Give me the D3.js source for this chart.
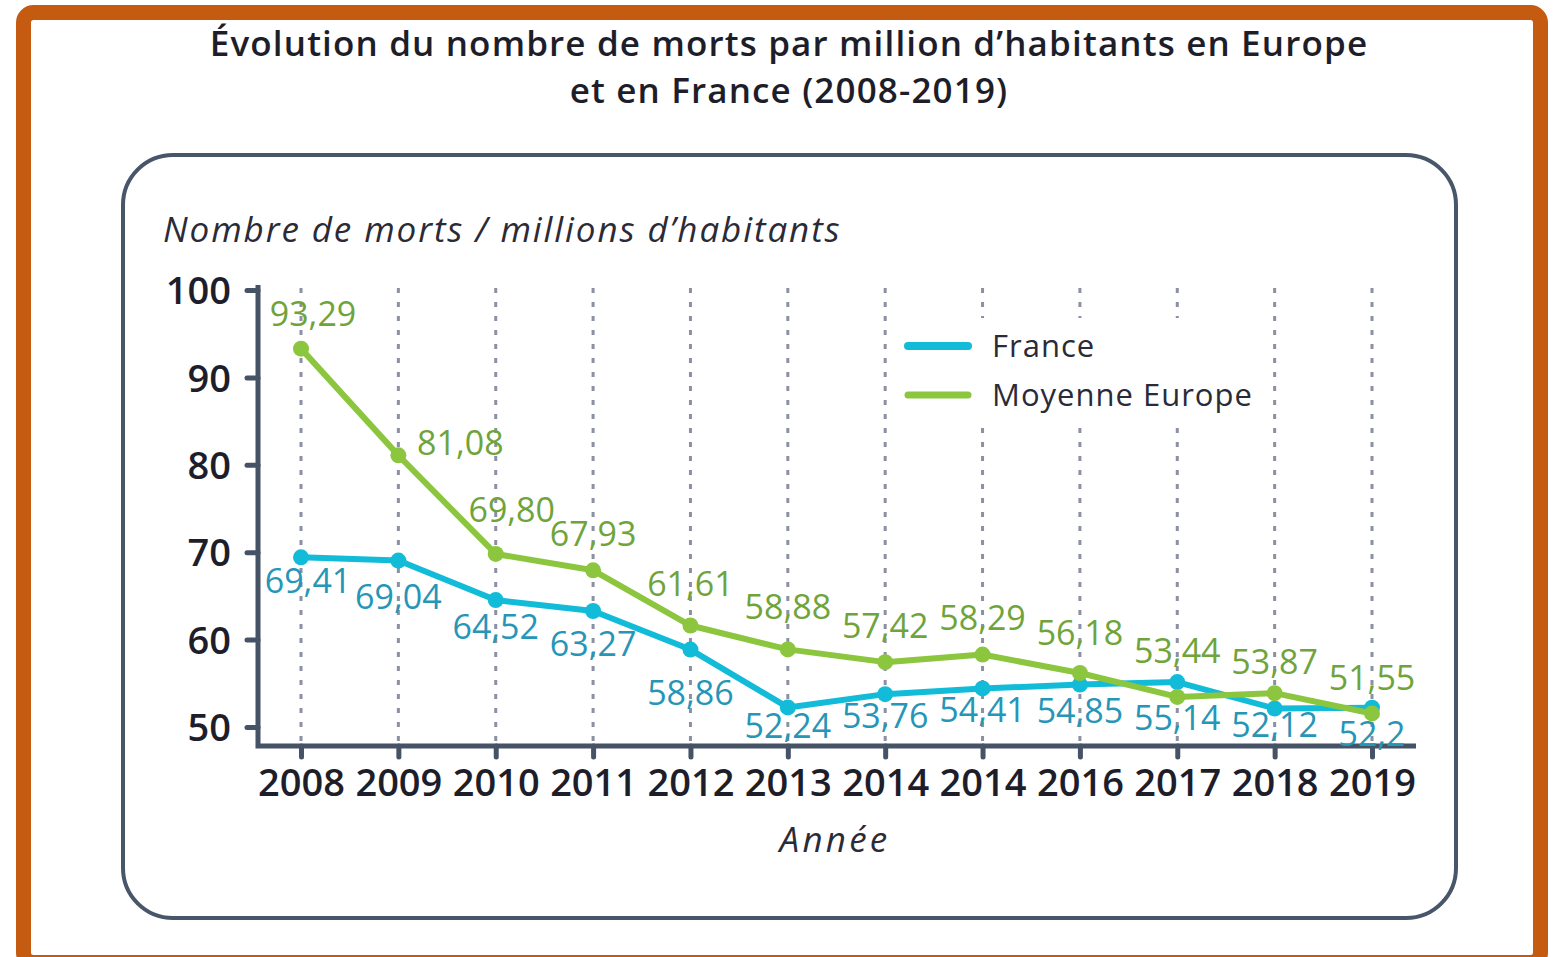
<!DOCTYPE html>
<html>
<head>
<meta charset="utf-8">
<script src="https://cdn.jsdelivr.net/npm/d3@7"></script>
<style>
  body { margin: 0; background: #fff; }
  svg { display: block; }
</style>
</head>
<body>
<div id="container"></div>
<script>
const W = 1555, H = 957;

// data
const yearLabels = ["2008", "2009", "2010", "2011", "2012", "2013", "2014", "2014", "2016", "2017", "2018", "2019"];
const france = [69.41, 69.04, 64.52, 63.27, 58.86, 52.24, 53.76, 54.41, 54.85, 55.14, 52.12, 52.2];
const europe = [93.29, 81.08, 69.80, 67.93, 61.61, 58.88, 57.42, 58.29, 56.18, 53.44, 53.87, 51.55];
const franceText = ["69,41", "69,04", "64,52", "63,27", "58,86", "52,24", "53,76", "54,41", "54,85", "55,14", "52,12", "52,2"];
const europeText = ["93,29", "81,08", "69,80", "67,93", "61,61", "58,88", "57,42", "58,29", "56,18", "53,44", "53,87", "51,55"];
const yTicks = [50, 60, 70, 80, 90, 100];

// label nudges (layout only)
const europeDx = [12, 62, 16, 0, 0, 0, 0, 0, 0, 0, 0, 0];
const europeDy = [-23, 0, -32, -24, -30, -30, -24, -25, -28, -34, -19, -23];
const franceDx = [7, 0, 0, 0, 0, 0, 0, 0, 0, 0, 0, 0];
const franceDy = [36, 48, 39, 45, 55, 31, 34, 34, 38, 48, 29, 38];

const blue = "#12bcd9", green = "#8cc63f";
const blueText = "#2696b8", greenText = "#6fa43a";
const axisColor = "#465366", gridColor = "#8b90a2";
const ink = "#1e1e2a";
const font = "'Open Sans', sans-serif";

const svg = d3.select("#container").append("svg")
    .attr("width", W).attr("height", H);

// orange frame
svg.append("rect")
    .attr("x", 23.5).attr("y", 12.5)
    .attr("width", 1517).attr("height", 950)
    .attr("rx", 10)
    .attr("fill", "none")
    .attr("stroke", "#c55a11")
    .attr("stroke-width", 15);

// title
const title = svg.append("text")
    .attr("text-anchor", "middle")
    .attr("font-family", font)
    .attr("font-weight", 600)
    .attr("font-size", 35)
    .attr("letter-spacing", 1.15)
    .attr("fill", ink);
title.append("tspan").attr("x", 789).attr("y", 56)
    .text("Évolution du nombre de morts par million d’habitants en Europe");
title.append("tspan").attr("x", 789).attr("y", 103)
    .text("et en France (2008-2019)");

// inner rounded box
svg.append("rect")
    .attr("x", 123).attr("y", 155)
    .attr("width", 1333).attr("height", 763)
    .attr("rx", 50)
    .attr("fill", "none")
    .attr("stroke", "#48566a")
    .attr("stroke-width", 4);

const x = d3.scalePoint()
    .domain(d3.range(yearLabels.length))
    .range([301, 1372]);

const y = d3.scaleLinear()
    .domain([50, 100])
    .range([727, 290]);

const axisY = 746, axisX = 258;

// dotted vertical grid
svg.append("g").selectAll("line")
    .data(d3.range(yearLabels.length))
    .join("line")
    .attr("x1", d => x(d)).attr("x2", d => x(d))
    .attr("y1", 288).attr("y2", axisY - 4)
    .attr("stroke", gridColor)
    .attr("stroke-width", 3)
    .attr("stroke-dasharray", "5 9");

// y axis label
svg.append("text")
    .attr("x", 163).attr("y", 242)
    .attr("font-family", font)
    .attr("font-style", "italic")
    .attr("font-size", 35)
    .attr("letter-spacing", 1.9)
    .attr("fill", "#2b2b38")
    .text("Nombre de morts / millions d’habitants");

// axes
const gy = svg.append("g")
    .attr("transform", `translate(${axisX},0)`)
    .call(d3.axisLeft(y).tickValues(yTicks).tickSize(11).tickPadding(16));
const gx = svg.append("g")
    .attr("transform", `translate(0,${axisY})`)
    .call(d3.axisBottom(x).tickSize(11).tickPadding(12).tickFormat(i => yearLabels[i]));

[gy, gx].forEach(g => {
    g.select(".domain").remove();
    g.selectAll(".tick line")
        .attr("stroke", axisColor)
        .attr("stroke-width", 5)
        .attr("stroke-linecap", "round");
    g.selectAll(".tick text")
        .attr("font-family", font)
        .attr("font-weight", 600)
        .attr("font-size", 38)
        .attr("fill", ink);
});
gy.selectAll(".tick text").attr("dy", "0.36em");
gx.selectAll(".tick text").attr("dy", "0.7em");

svg.append("path")
    .attr("d", `M${axisX},285 L${axisX},${axisY} L1416,${axisY}`)
    .attr("fill", "none")
    .attr("stroke", axisColor)
    .attr("stroke-width", 5);

// legend (white backing hides grid)
svg.append("rect")
    .attr("x", 895).attr("y", 318)
    .attr("width", 368).attr("height", 110)
    .attr("fill", "#fff");
const legend = [
    { name: "France", color: blue, y: 346, w: 8 },
    { name: "Moyenne Europe", color: green, y: 395, w: 7 }
];
const lg = svg.append("g").selectAll("g").data(legend).join("g");
lg.append("line")
    .attr("x1", 908).attr("x2", 968)
    .attr("y1", d => d.y).attr("y2", d => d.y)
    .attr("stroke", d => d.color)
    .attr("stroke-width", d => d.w)
    .attr("stroke-linecap", "round");
lg.append("text")
    .attr("x", 992).attr("y", d => d.y + 11)
    .attr("font-family", font)
    .attr("font-size", 31)
    .attr("letter-spacing", 1)
    .attr("fill", "#2b2b38")
    .text(d => d.name);

// lines + markers
const line = d3.line().x((d, i) => x(i)).y(d => y(d));
const series = [
    { values: france, color: blue },
    { values: europe, color: green }
];
series.forEach(s => {
    svg.append("path")
        .attr("d", line(s.values))
        .attr("fill", "none")
        .attr("stroke", s.color)
        .attr("stroke-width", 6)
        .attr("stroke-linejoin", "round");
    svg.append("g").selectAll("circle")
        .data(s.values)
        .join("circle")
        .attr("cx", (d, i) => x(i))
        .attr("cy", d => y(d))
        .attr("r", 8)
        .attr("fill", s.color);
});

// value labels
function labels(values, texts, dx, dy, color) {
    svg.append("g").selectAll("text")
        .data(values)
        .join("text")
        .attr("x", (d, i) => x(i) + dx[i])
        .attr("y", (d, i) => y(d) + dy[i])
        .attr("text-anchor", "middle")
        .attr("font-family", font)
        .attr("font-size", 34)
        .attr("fill", color)
        .text((d, i) => texts[i]);
}
labels(france, franceText, franceDx, franceDy, blueText);
labels(europe, europeText, europeDx, europeDy, greenText);

// x axis title
svg.append("text")
    .attr("x", 835).attr("y", 852)
    .attr("text-anchor", "middle")
    .attr("font-family", font)
    .attr("font-style", "italic")
    .attr("font-size", 35)
    .attr("letter-spacing", 3.2)
    .attr("fill", "#2b2b38")
    .text("Année");
</script>
</body>
</html>
